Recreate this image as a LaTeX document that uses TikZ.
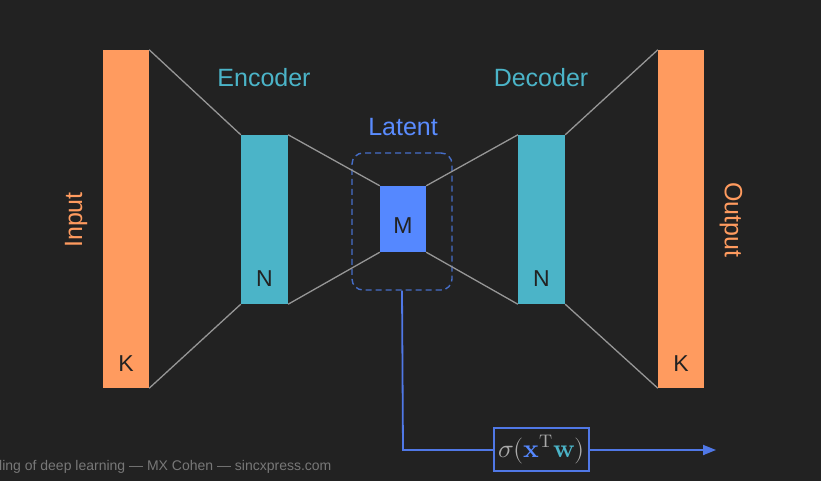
\documentclass[tikz,border=0pt]{standalone}
\usepackage{fontspec}
\setmainfont{Liberation Sans}
\usepackage{unicode-math}
\setmathfont{Latin Modern Math}
\usetikzlibrary{arrows.meta}
\definecolor{bg}{RGB}{34,34,34}
\definecolor{orng}{RGB}{255,155,95}
\definecolor{teal2}{RGB}{75,180,200}
\definecolor{mblue}{RGB}{85,136,255}
\definecolor{ltxt}{RGB}{90,140,255}
\definecolor{dbox}{RGB}{70,110,200}
\definecolor{arrb}{RGB}{80,120,230}
\definecolor{lgray}{RGB}{150,150,150}
\definecolor{wmark}{RGB}{120,120,120}
\definecolor{ftxt}{RGB}{170,170,170}
\tikzset{
  bar/.style={draw=none, inner sep=0pt, minimum width=46pt},
  inbar/.style={bar, fill=orng, minimum height=338pt},
  midbar/.style={bar, fill=teal2, minimum width=47pt, minimum height=169pt},
  latbar/.style={bar, fill=mblue, minimum height=66pt},
  lab/.style={font=\fontsize{25}{29}\selectfont, inner sep=0pt},
  intxt/.style={font=\fontsize{23}{27}\selectfont, text=bg, inner sep=0pt},
  conn/.style={draw=lgray, line width=1.3pt},
}
\begin{document}
\begin{tikzpicture}[x=1pt,y=-1pt]
\fill[bg] (0,0) rectangle (821,481);
\useasboundingbox (0,0) rectangle (821,481);

\node[inbar] (input) at (126,219) {};
\node[midbar] (enc) at (264.5,219.5) {};
\node[latbar] (lat) at (403,219) {};
\node[midbar] (dec) at (541.5,219.5) {};
\node[inbar] (out) at (681,219) {};

\node[draw=dbox, line width=1.4pt, dash pattern=on 6pt off 4pt, rounded corners=11pt,
      minimum width=100pt, minimum height=137pt, inner sep=0pt] (latbox) at (402,221.5) {};

\draw[conn] (input.north east) -- (enc.north west);
\draw[conn] (input.south east) -- (enc.south west);
\draw[conn] (enc.north east) -- (lat.north west);
\draw[conn] (enc.south east) -- (lat.south west);
\draw[conn] (lat.north east) -- (dec.north west);
\draw[conn] (lat.south east) -- (dec.south west);
\draw[conn] (dec.north east) -- (out.north west);
\draw[conn] (dec.south east) -- (out.south west);

\node[intxt] (kin) at (126,364) {K};
\node[intxt] (kout) at (681,364) {K};
\node[intxt] (nenc) at (264.5,279) {N};
\node[intxt] (ndec) at (541.5,279) {N};
\node[intxt] (mlab) at (403,226) {M};

\node[lab, text=teal2] (enclab) at (264,78) {Encoder};
\node[lab, text=teal2] (declab) at (541,78) {Decoder};
\node[lab, text=ltxt] (latlab) at (403,127) {Latent};
\node[lab, text=orng, rotate=90] (inlab) at (76,220) {Input};
\node[lab, text=orng, rotate=-90] (outlab) at (731,220) {Output};

\coordinate (bend) at (403,450);
\coordinate (aend) at (716,450);
\draw[arrb, line width=1.8pt, -{Triangle[length=13pt,width=10pt]}] (latbox.south) -- (bend) -- (aend);

\node[draw=arrb, fill=bg, line width=1.4pt, minimum width=95pt, minimum height=43pt, inner sep=0pt,
      text=ftxt, font=\fontsize{26}{30}\selectfont] (sig) at (541.5,449.5)
  {$\sigma(\textcolor{mblue}{\symbf{x}}^{\symup{T}}\textcolor{teal2}{\symbf{w}})$};

\node[anchor=base west, inner sep=0pt, text=wmark, font=\fontsize{14}{16}\selectfont] (wm) at (-1,470) {ling of deep learning --- MX Cohen --- sincxpress.com};
\end{tikzpicture}
\end{document}
